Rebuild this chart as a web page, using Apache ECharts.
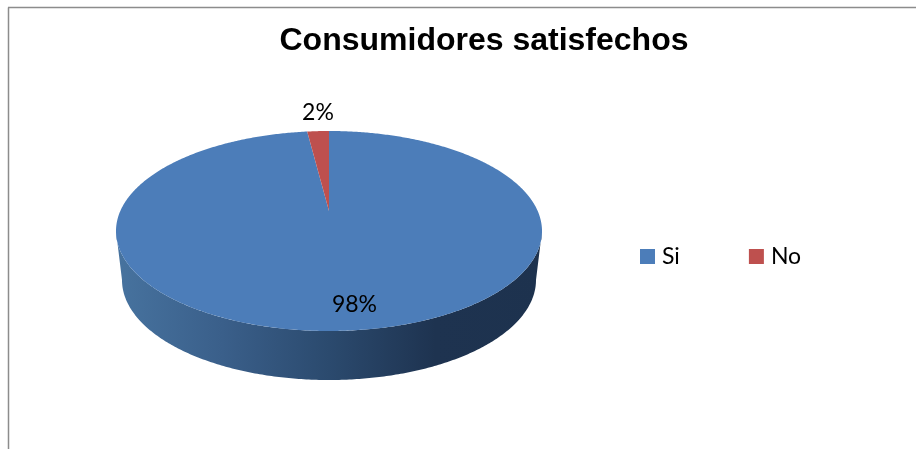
<!DOCTYPE html>
<html>
<head>
<meta charset="utf-8">
<style>html,body{margin:0;padding:0;background:#fff}#chart{width:916px;height:449px}</style>
<script src="https://cdn.jsdelivr.net/npm/echarts@6/dist/echarts.min.js"></script>
</head>
<body>
<div id="chart"></div>
<script>
const titleText = 'Consumidores satisfechos';
const categories = ['Si', 'No'];
const values = [98, 2];
const colors = ['#4c7db9', '#be504e'];

// Disc layout: apex of the slices, perspective factor and the rim of the lower face.
const disc = { apexX: 329, apexY: 211, a: 208.7, b: 96, k: 0.2 };
const base = { cx: 329, cy: 280, rx: 207, ry: 100 };
const labelPos = [{ x: 354.5, y: 305 }, { x: 318, y: 113 }];
const total = values.reduce((s, v) => s + v, 0);

// Angles run clockwise from twelve o'clock; the disc is tilted with perspective.
function projectTop(theta) {
  const u = Math.sin(theta), v = Math.cos(theta), w = 1 + disc.k * v;
  return [disc.apexX + disc.a * u / w, disc.apexY - disc.b * v / w];
}
// Same angle on the rim of the lower face, aligned to the ellipse of the upper rim.
function projectBase(theta) {
  const p = projectTop(theta);
  const topRx = disc.a / Math.sqrt(1 - disc.k * disc.k);
  const topCy = disc.apexY + (disc.b / (1 - disc.k) - disc.b / (1 + disc.k)) / 2;
  const topRy = (disc.b / (1 - disc.k) + disc.b / (1 + disc.k)) / 2;
  return [
    base.cx + (p[0] - disc.apexX) / topRx * base.rx,
    base.cy + (p[1] - topCy) / topRy * base.ry
  ];
}
function sampleAngles(from, to) {
  const out = [], n = Math.max(2, Math.ceil(Math.abs(to - from) / 0.01));
  for (let i = 0; i <= n; i++) out.push(from + (to - from) * i / n);
  return out;
}
function sliceRange(index) {
  const before = values.slice(0, index).reduce((s, v) => s + v, 0);
  return [before / total * Math.PI * 2, (before + values[index]) / total * Math.PI * 2];
}
const frontStart = Math.acos(-disc.k);
const frontEnd = Math.PI * 2 - frontStart;

function renderSlice(index) {
  return function (params, api) {
    const range = sliceRange(index);
    const children = [];
    const from = Math.max(range[0], frontStart), to = Math.min(range[1], frontEnd);
    if (to > from) {
      const angles = sampleAngles(from, to);
      const wall = angles.map(projectTop).concat(angles.slice().reverse().map(projectBase));
      children.push({
        type: 'polygon',
        shape: { points: wall },
        style: {
          fill: new echarts.graphic.LinearGradient(0, 0, 1, 0, [
            { offset: 0, color: '#47739f' },
            { offset: 0.25, color: '#3a5f8a' },
            { offset: 0.5, color: '#2b4a6e' },
            { offset: 0.75, color: '#1e3350' },
            { offset: 1, color: '#1d324e' }
          ])
        }
      });
    }
    const face = [[disc.apexX, disc.apexY]].concat(sampleAngles(range[0], range[1]).map(projectTop));
    children.push({ type: 'polygon', shape: { points: face }, style: { fill: colors[index] } });
    children.push({
      type: 'text',
      z2: 10,
      style: {
        x: labelPos[index].x, y: labelPos[index].y,
        text: Math.round(api.value(0) / total * 100) + '%',
        font: '23px Lato', fill: '#000', align: 'center', verticalAlign: 'middle'
      }
    });
    return { type: 'group', children: children };
  };
}

const chart = echarts.init(document.getElementById('chart'), null, { renderer: 'canvas' });
chart.setOption({
  animation: false,
  backgroundColor: '#fff',
  title: {
    text: titleText, left: 479, top: 20, textAlign: 'center',
    textStyle: { fontFamily: 'Liberation Sans', fontWeight: 'bold', fontSize: 32, color: '#000' }
  },
  legend: {
    data: categories, left: 640, top: 245, padding: 0, itemWidth: 15, itemHeight: 15, itemGap: 69,
    icon: 'rect', selectedMode: false,
    textStyle: { fontFamily: 'Lato', fontSize: 23, color: '#000', padding: [0, 0, 0, 2] }
  },
  graphic: [
    { type: 'line', silent: true, shape: { x1: 8.5, y1: 7.5, x2: 8.5, y2: 449 }, style: { stroke: '#8c8c8c', lineWidth: 1.5 } },
    { type: 'line', silent: true, shape: { x1: 8, y1: 7.5, x2: 916, y2: 7.5 }, style: { stroke: '#8c8c8c', lineWidth: 1.5 } }
  ],
  series: categories.map((name, i) => ({
    type: 'custom',
    name: name,
    coordinateSystem: 'none',
    itemStyle: { color: colors[i] },
    renderItem: renderSlice(i),
    data: [[values[i]]]
  }))
});
</script>
</body>
</html>
